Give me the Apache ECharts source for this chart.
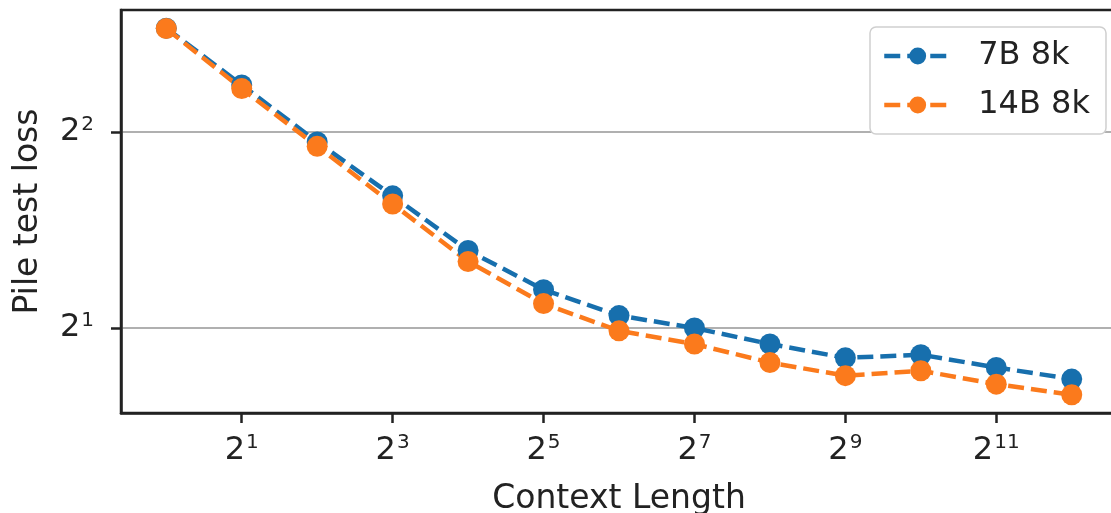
<!DOCTYPE html>
<html>
<head>
<meta charset="utf-8">
<title>Pile test loss vs context length</title>
<script src="https://cdn.jsdelivr.net/npm/echarts@6/dist/echarts.min.js"></script>
<style>
  html, body { margin: 0; padding: 0; background: #fff; }
  #chart { width: 1111px; height: 513px; }
</style>
</head>
<body>
<div id="chart"></div>
<script>
// Context lengths (tokens) evaluated, powers of two
const contextLengths = [1, 2, 4, 8, 16, 32, 64, 128, 256, 512, 1024, 2048, 4096];
// Pile test loss per model
const loss7B  = [5.77, 4.72, 3.86, 3.19, 2.63, 2.29, 2.09, 2.00, 1.89, 1.80, 1.82, 1.74, 1.67];
const loss14B = [5.76, 4.66, 3.80, 3.10, 2.53, 2.18, 1.98, 1.89, 1.77, 1.69, 1.72, 1.64, 1.58];
const seriesNames = ['7B 8k', '14B 8k'];
// Tick positions on both log2 axes
const xTickValues = [2, 8, 32, 128, 512, 2048];
const yTickValues = [2, 4];

const FONT = 'DejaVu Sans';
const AXIS_COLOR = '#222';
const COLORS = ['#176fad', '#fb7a1c'];
const DASH = [16, 7];

function pow2Label(v) {
  const e = Math.round(Math.log2(v));
  return '{b|2}{s|' + e + '}';
}
const powRich = {
  b: { fontSize: 32, fontFamily: FONT, color: '#222' },
  s: { fontSize: 20, fontFamily: FONT, color: '#222', padding: [0, 0, 15, 1] }
};

function pairs(xs, ys) { return xs.map((x, i) => [x, ys[i]]); }

const lineCommon = {
  type: 'line',
  symbol: 'circle',
  symbolSize: 21,
  animation: false,
  emphasis: { disabled: true }
};

const chart = echarts.init(document.getElementById('chart'), null, { renderer: 'canvas' });
chart.setOption({
  animation: false,
  textStyle: { fontFamily: FONT },
  grid: {
    left: 121, top: 10, width: 996, height: 403,
    outerBoundsMode: 'none',
    containLabel: false,
    show: true, borderColor: AXIS_COLOR, borderWidth: 2.5, backgroundColor: 'transparent'
  },
  legend: {
    orient: 'vertical',
    left: 870, top: 27,
    padding: [13, 16, 13, 12],
    itemGap: 17,
    itemWidth: 67, itemHeight: 21,
    backgroundColor: '#fff',
    borderColor: '#cfcfcf', borderWidth: 1.5, borderRadius: 6,
    lineStyle: { width: 4.5, type: DASH },
    textStyle: { fontSize: 32, fontFamily: FONT, color: '#222', lineHeight: 30, padding: [0, 0, 0, 22] },
    data: seriesNames
  },
  xAxis: {
    type: 'log', logBase: 2,
    min: Math.pow(2, -0.6), max: Math.pow(2, 12.6),
    name: 'Context Length', nameLocation: 'middle', nameGap: 70,
    nameTextStyle: { fontSize: 33, fontFamily: FONT, color: '#222' },
    axisLine: { show: true, lineStyle: { color: AXIS_COLOR, width: 2.5 } },
    axisTick: { show: true, length: 10, lineStyle: { color: AXIS_COLOR, width: 2.5 }, customValues: xTickValues },
    axisLabel: { margin: 20, formatter: pow2Label, rich: powRich, customValues: xTickValues },
    splitLine: { show: false },
    minorTick: { show: false }
  },
  yAxis: {
    type: 'log', logBase: 2,
    min: Math.pow(2, 0.5668), max: Math.pow(2, 2.621),
    name: 'Pile test loss', nameLocation: 'middle', nameGap: 76, nameRotate: 90,
    nameTextStyle: { fontSize: 33, fontFamily: FONT, color: '#222' },
    axisLine: { show: true, lineStyle: { color: AXIS_COLOR, width: 2.5 } },
    axisTick: { show: true, length: 10, lineStyle: { color: AXIS_COLOR, width: 2.5 }, customValues: yTickValues },
    axisLabel: { margin: 27, formatter: pow2Label, rich: powRich, customValues: yTickValues },
    splitLine: { show: true, lineStyle: { color: '#b0b0b0', width: 2 } },
    minorTick: { show: false }
  },
  series: [
    Object.assign({}, lineCommon, {
      name: seriesNames[0],
      data: pairs(contextLengths, loss7B),
      itemStyle: { color: COLORS[0] },
      lineStyle: { color: COLORS[0], width: 4.5, type: DASH }
    }),
    Object.assign({}, lineCommon, {
      name: seriesNames[1],
      data: pairs(contextLengths, loss14B),
      itemStyle: { color: COLORS[1] },
      lineStyle: { color: COLORS[1], width: 4.5, type: DASH }
    })
  ]
});
</script>
</body>
</html>
